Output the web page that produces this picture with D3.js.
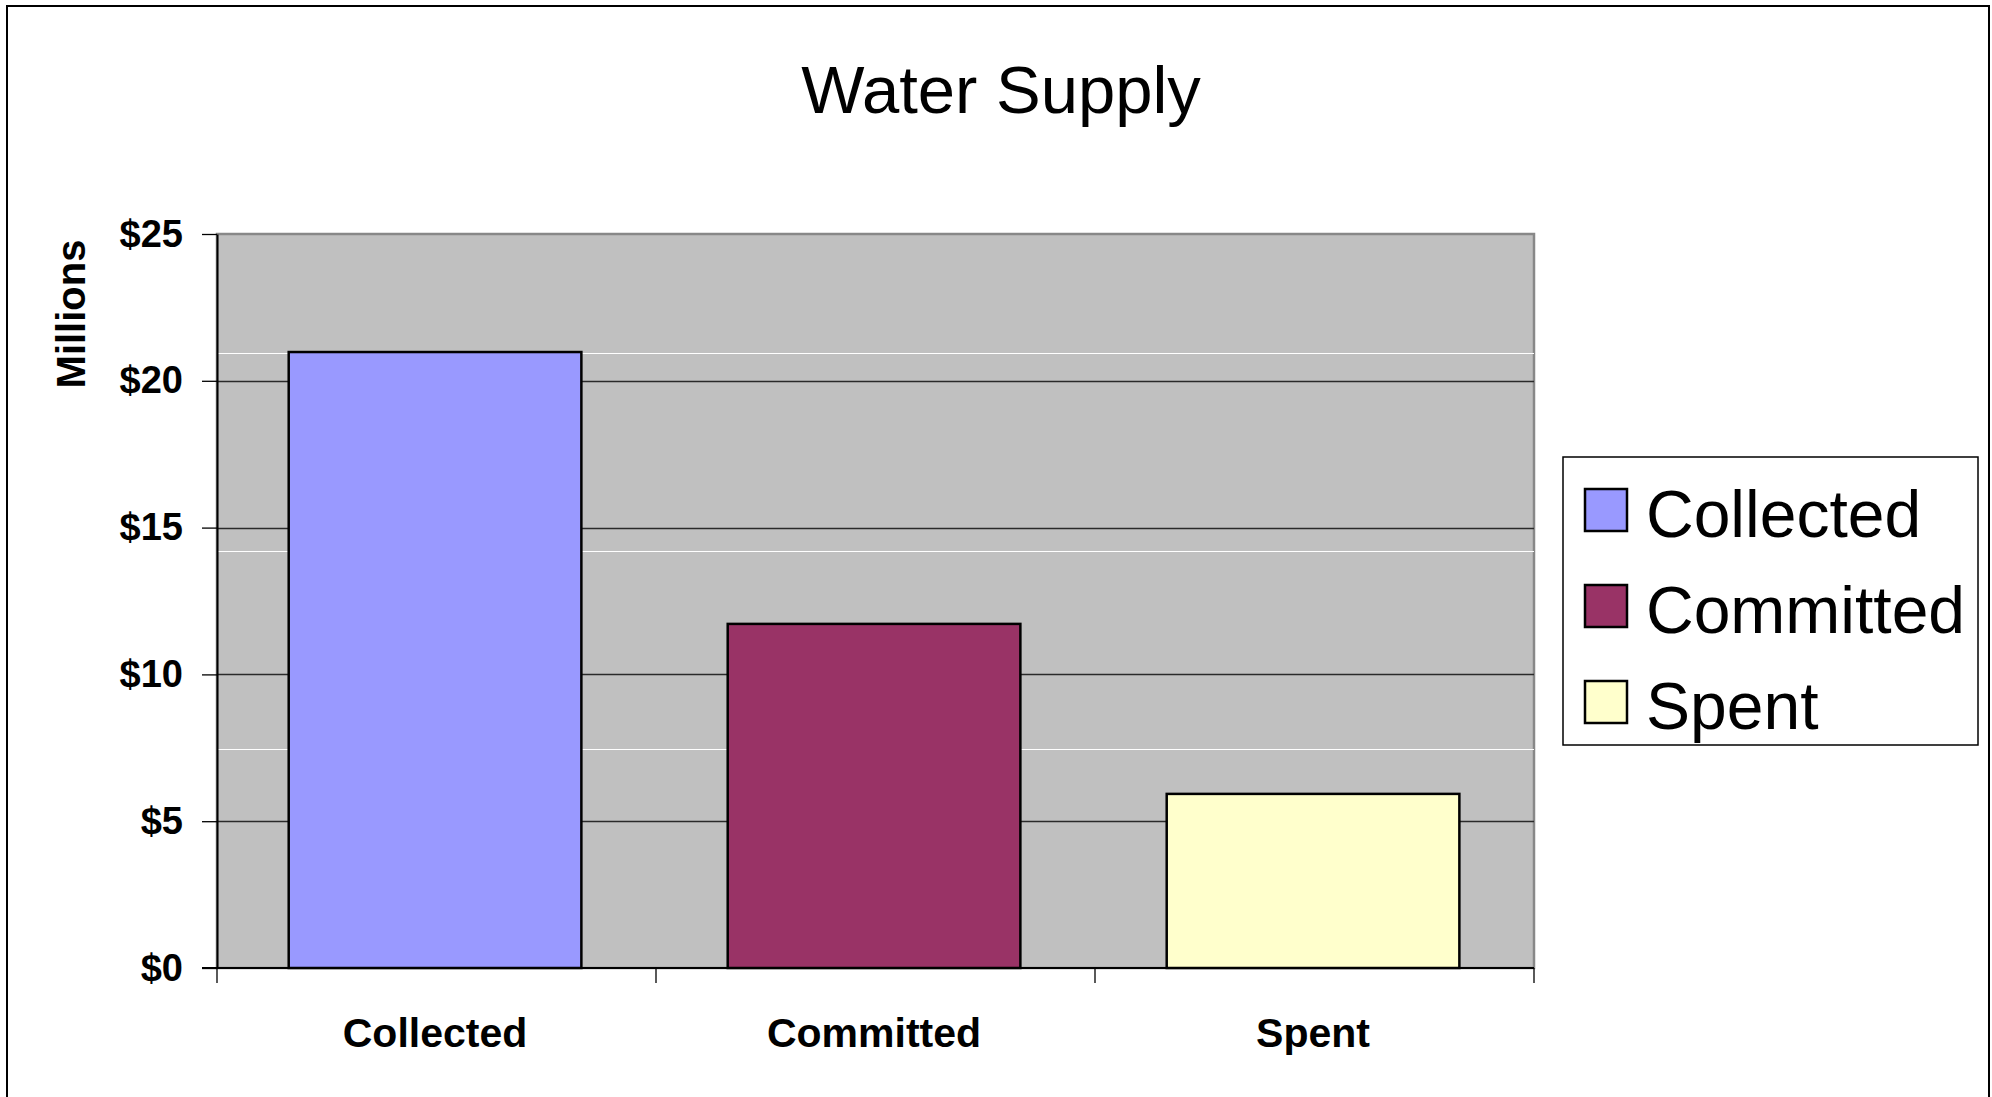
<!DOCTYPE html>
<html>
<head>
<meta charset="utf-8">
<script src="https://cdn.jsdelivr.net/npm/d3@7"></script>
<style>
  body { margin: 0; background: #fff; }
  svg { display: block; font-family: "Liberation Sans", Arial, sans-serif; }
</style>
</head>
<body>
<div id="chart"></div>
<script>

var categories = ["Collected", "Committed", "Spent"]
var values = [20.98, 11.72, 5.93]   // millions of dollars
var yTicks = [0, 5, 10, 15, 20, 25]
var whiteLines = [7.45, 14.2, 20.95]  // faint white reference lines in the plot
var colors = ["#9999FF", "#993366", "#FFFFCC"]

var width = 1992
var height = 1097

var plot = {left: 217, right: 1534, top: 234, bottom: 968}

const svg = d3.select("#chart").append("svg")
  .attr("width", width)
  .attr("height", height);

// outer frame
svg.append("rect")
  .attr("x", 7).attr("y", 6)
  .attr("width", 1982).attr("height", height + 10)
  .attr("fill", "none")
  .attr("stroke", "#000")
  .attr("stroke-width", 2);

var x = d3.scaleBand()
  .domain(categories)
  .range([plot.left, plot.right])
  .paddingInner(1/3)
  .paddingOuter(1/6)
  .align(0.49);

var y = d3.scaleLinear()
  .domain([0, 25])
  .range([plot.bottom, plot.top]);

// plot background
svg.append("rect")
  .attr("x", plot.left)
  .attr("y", plot.top)
  .attr("width", plot.right - plot.left)
  .attr("height", plot.bottom - plot.top)
  .attr("fill", "#C0C0C0")
  .attr("stroke", "#888")
  .attr("stroke-width", 2.5);

// white lines
svg.append("g").selectAll("line")
  .data(whiteLines)
  .enter().append("line")
  .attr("x1", plot.left).attr("x2", plot.right)
  .attr("y1", d => Math.round(y(d)) + 0.5)
  .attr("y2", d => Math.round(y(d)) + 0.5)
  .attr("stroke", "#fff")
  .attr("stroke-width", 1.2);

// gridlines
svg.append("g").selectAll("line")
  .data(yTicks.filter(d => d > 0 && d < 25))
  .enter().append("line")
  .attr("x1", plot.left).attr("x2", plot.right)
  .attr("y1", d => Math.round(y(d)) + 0.5)
  .attr("y2", d => Math.round(y(d)) + 0.5)
  .attr("stroke", "#2a2a2a")
  .attr("stroke-width", 1.3);

// bars
svg.append("g").selectAll("rect")
  .data(values)
  .enter().append("rect")
  .attr("x", (d, i) => x(categories[i]))
  .attr("y", d => y(d))
  .attr("width", x.bandwidth())
  .attr("height", d => y(0) - y(d))
  .attr("fill", (d, i) => colors[i])
  .attr("stroke", "#000")
  .attr("stroke-width", 2.5);

// y axis
var yAxis = svg.append("g")
  .attr("transform", `translate(${plot.left},0)`)
  .call(d3.axisLeft(y)
    .tickValues(yTicks)
    .tickFormat(d => "$" + d)
    .tickSize(15)
    .tickSizeOuter(0)
    .tickPadding(19));

yAxis.select(".domain").attr("stroke", "#000").attr("stroke-width", 2);
yAxis.selectAll(".tick line").attr("stroke", "#000").attr("stroke-width", 1.3);
yAxis.selectAll("text")
  .attr("font-family", "Liberation Sans, Arial, sans-serif")
  .attr("font-size", "38px")
  .attr("font-weight", "bold")
  .attr("fill", "#000");

// x axis line and boundary ticks
svg.append("line")
  .attr("x1", plot.left - 15).attr("x2", plot.right)
  .attr("y1", plot.bottom).attr("y2", plot.bottom)
  .attr("stroke", "#000")
  .attr("stroke-width", 2);

var bounds = d3.range(categories.length + 1).map(i => plot.left + i * (plot.right - plot.left) / categories.length);
svg.append("g").selectAll("line")
  .data(bounds)
  .enter().append("line")
  .attr("x1", d => d).attr("x2", d => d)
  .attr("y1", plot.bottom).attr("y2", plot.bottom + 15)
  .attr("stroke", "#000")
  .attr("stroke-width", 1.3);

svg.append("g").selectAll("text")
  .data(categories)
  .enter().append("text")
  .attr("x", d => x(d) + x.bandwidth() / 2)
  .attr("y", 1047)
  .attr("text-anchor", "middle")
  .attr("font-size", "41px")
  .attr("font-weight", "bold")
  .text(d => d);

// y axis title
svg.append("text")
  .attr("transform", "translate(85,314) rotate(-90)")
  .attr("text-anchor", "middle")
  .attr("font-size", "40px")
  .attr("font-weight", "bold")
  .text("Millions");

// chart title
svg.append("text")
  .attr("x", 1001)
  .attr("y", 113)
  .attr("text-anchor", "middle")
  .attr("font-size", "67px")
  .text("Water Supply");

// legend
const legend = svg.append("g");
legend.append("rect")
  .attr("x", 1563).attr("y", 457)
  .attr("width", 415).attr("height", 288)
  .attr("fill", "#fff")
  .attr("stroke", "#000")
  .attr("stroke-width", 1.5);

const items = legend.selectAll(".item")
  .data(categories)
  .enter().append("g")
  .attr("class", "item")
  .attr("transform", (d, i) => `translate(1585,${489 + i * 96})`);

items.append("rect")
  .attr("width", 42).attr("height", 42)
  .attr("fill", (d, i) => colors[i])
  .attr("stroke", "#000")
  .attr("stroke-width", 2.5);

items.append("text")
  .attr("x", 61)
  .attr("y", 48)
  .attr("font-size", "66px")
  .text(d => d);

</script>
</body>
</html>
